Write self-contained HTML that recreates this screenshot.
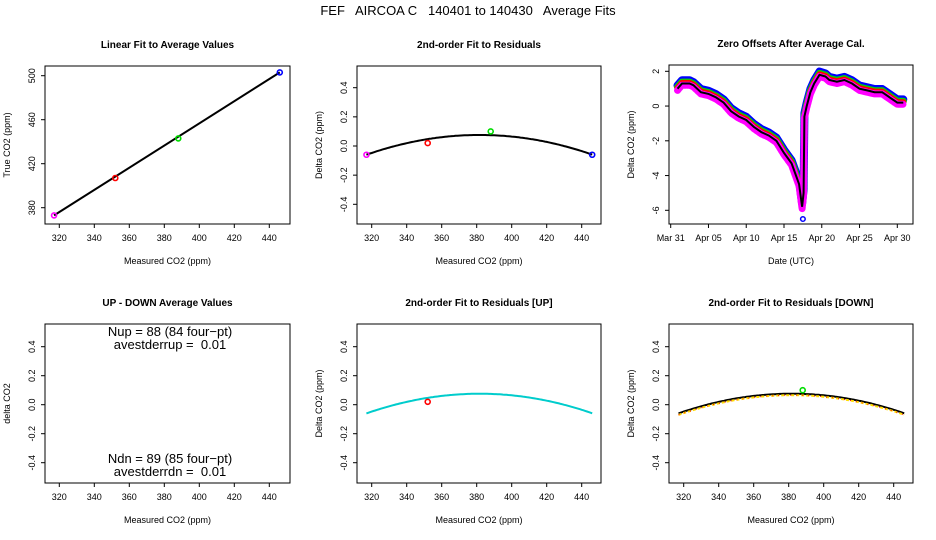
<!DOCTYPE html>
<html><head><meta charset="utf-8"><style>
body{margin:0;background:#fff}
svg{display:block;font-family:"Liberation Sans",sans-serif}
text{fill:#000;white-space:pre}
</style></head><body>
<svg id="s" width="936" height="540" xmlns="http://www.w3.org/2000/svg">
<rect width="936" height="540" fill="#fff"/>
<text x="468" y="15" font-size="13" text-anchor="middle" xml:space="preserve">FEF   AIRCOA C   140401 to 140430   Average Fits</text>
</svg>
<script>
// ---- data ----
const calX = [317, 352, 388, 446];
const calTrue = [373, 407, 443, 503];
const calResid = [-0.06, 0.02, 0.10, -0.06];
const calColors = ["#ff00ff", "#ff0000", "#00dd00", "#0000ff"];
const fitCoef = [-0.06, 0.0042, -0.0000325]; // quadratic in (x-317)
const days = [0.9,1.5,2.5,3,4,5,6,7,8,9,10,11,12,13,14,15,16,17,17.4,17.6,17.7,18,18.5,19,19.7,20.5,21,22,23,24,25,26,27,28,29,30,30.8];
const offsets = [1.0,1.3,1.3,1.2,0.8,0.7,0.5,0.2,-0.3,-0.6,-0.8,-1.2,-1.5,-1.7,-2.0,-2.7,-3.3,-4.5,-5.8,-5.0,-0.6,0.0,0.8,1.3,1.8,1.7,1.5,1.4,1.5,1.3,1.0,0.9,0.8,0.8,0.5,0.2,0.2];
const seriesShift = [0.18, 0.08, 0.03, -0.1];
const seriesColors = ["#0000ff", "#00dd00", "#ff0000", "#ff00ff"];
const dateTicks = [0,5,10,15,20,25,30];
const dateLabels = ["Mar 31","Apr 05","Apr 10","Apr 15","Apr 20","Apr 25","Apr 30"];
const xTicks = [320,340,360,380,400,420,440];
const residTicks = [-0.4,-0.2,0.0,0.2,0.4];
const trueTicks = [380,420,460,500];
const offTicks = [-6,-4,-2,0,2];

const NS="http://www.w3.org/2000/svg", S=document.getElementById('s');
function el(t,a,p){const e=document.createElementNS(NS,t);for(const k in a)e.setAttribute(k,a[k]);(p||S).appendChild(e);return e;}
function txt(x,y,s,a,p){const e=el('text',Object.assign({x:x,y:y,'font-size':9,'text-anchor':'middle'},a||{}),p);e.textContent=s;return e;}
function lin(d0,d1,r0,r1){return v=>r0+(v-d0)*(r1-r0)/(d1-d0);}
function fit(x){const d=x-317;return fitCoef[0]+fitCoef[1]*d+fitCoef[2]*d*d;}

function panel(name,box,title,xl,yl,fx,fy,xt,xlab,yt,ylab){
  const g=el('g',{});
  
  
  const [L,T,R,B]=box;
  const t=txt((L+R)/2,T-18,title,{'font-weight':'bold','font-size':10},g);
  
  const r=el('rect',{x:L,y:T,width:R-L,height:B-T,fill:'none',stroke:'#000','stroke-width':1},g);
  
  xt.forEach((v,i)=>{const x=fx(v);el('line',{x1:x,x2:x,y1:B,y2:B+4,stroke:'#000'},g);
    const e=txt(x,B+17,xlab?xlab[i]:String(v),{},g);});
  yt.forEach((v,i)=>{const y=fy(v);el('line',{x1:L,x2:L-4,y1:y,y2:y,stroke:'#000'},g);
    const e=txt(L-10,y,ylab[i],{transform:`rotate(-90 ${L-10} ${y})`},g);
    });
  const xa=txt((L+R)/2,B+40,xl,{},g);
  const yx=L-35;const ya=txt(yx,(T+B)/2,yl,{transform:`rotate(-90 ${yx} ${(T+B)/2})`},g);
  
  return g;
}
const rl=residTicks.map(v=>v.toFixed(1));

// Panel 1
{const fx=lin(320,440,59.3,269.3),fy=lin(380,500,207.7,75.7);
 const g=panel('linear-fit-panel',[45,66,290,224],'Linear Fit to Average Values','Measured CO2 (ppm)','True CO2 (ppm)',fx,fy,xTicks,null,trueTicks,trueTicks.map(String));
 const mn=Math.min(...calX),mx=Math.max(...calX);
 const sl=(calTrue[3]-calTrue[0])/(calX[3]-calX[0]);
 const l=el('line',{x1:fx(mn),y1:fy(calTrue[0]),x2:fx(mx),y2:fy(calTrue[0]+sl*(mx-mn)),stroke:'#000','stroke-width':2},g);
 
 calX.forEach((x,i)=>{const c=el('circle',{cx:fx(x),cy:fy(calTrue[i]),r:2.5,fill:'none',stroke:calColors[i],'stroke-width':1.6},g);
   });
}
function residPanel(name,box,title,xr,yr,color,pts,dash){
  const fx=lin(320,440,xr[0],xr[1]),fy=lin(-0.4,0.4,yr[0],yr[1]);
  const g=panel(name,box,title,'Measured CO2 (ppm)',name==='up-down-panel'?'delta CO2':'Delta CO2 (ppm)',fx,fy,xTicks,null,residTicks,rl);
  if(color){let d='';for(let x=317;x<=446;x+=1)d+=(x===317?'M':'L')+fx(x).toFixed(1)+','+fy(fit(x)).toFixed(1);
    const p=el('path',{d:d,fill:'none',stroke:color,'stroke-width':2},g);
    
    if(dash){const p2=el('path',{d:d,fill:'none',stroke:dash,'stroke-width':2,'stroke-dasharray':'3 2',transform:'translate(0,1.5)'},g);
      
      const p3=el('path',{d:d,fill:'none',stroke:'#ff0000','stroke-width':1,'stroke-dasharray':'1 5',transform:'translate(0,1.5)'},g);
      }}
  pts.forEach(i=>{const c=el('circle',{cx:fx(calX[i]),cy:fy(calResid[i]),r:2.5,fill:'none',stroke:calColors[i],'stroke-width':1.6},g);
    });
  return [g,fx,fy];
}
residPanel('residual-panel',[357,66,601,224],'2nd-order Fit to Residuals',[371.7,581.7],[204.3,87.7],'#000',[0,1,2,3]);
// Panel 3 zero offsets
{const fx=lin(0,30,670.7,897.3),fy=lin(-6,2,210.3,71.3);
 const g=panel('zero-offsets-panel',[669,65,913,224],'Zero Offsets After Average Cal.','Date (UTC)','Delta CO2 (ppm)',fx,fy,dateTicks,dateLabels,offTicks,offTicks.map(String));
 const widths=[8,7,6,7];
 seriesShift.forEach((s,k)=>{const d=days.map((t,i)=>(i?'L':'M')+fx(t).toFixed(1)+','+fy(offsets[i]+s).toFixed(1)).join('');
   const p=el('path',{d:d,fill:'none',stroke:seriesColors[k],'stroke-width':widths[k],'stroke-linejoin':'round','stroke-linecap':'round'},g);
   if(k===3)p.setAttribute('stroke-dasharray','2 1');
   });
 const d=days.map((t,i)=>(i?'L':'M')+fx(t).toFixed(1)+','+fy(offsets[i]).toFixed(1)).join('');
 const p=el('path',{d:d,fill:'none',stroke:'#000','stroke-width':2},g);
 
 const c=el('circle',{cx:fx(17.5),cy:fy(-6.5),r:2.3,fill:'none',stroke:'#0000ff','stroke-width':1.5},g);
 
}
// Bottom row
{const [g]=residPanel('up-down-panel',[45,324,290,483],'UP - DOWN Average Values',[59.3,269.3],[462.7,346.7],null,[]);
 [['Nup = 88 (84 four\u2212pt)',336],['avestderrup =  0.01',349],['Ndn = 89 (85 four\u2212pt)',463],['avestderrdn =  0.01',476]].forEach(a=>{
   const e=txt(170,a[1],a[0],{'font-size':13},g);});}
residPanel('residual-up-panel',[357,324,601,483],'2nd-order Fit to Residuals [UP]',[371.7,581.7],[462.7,346.7],'#00cccc',[1]);
residPanel('residual-down-panel',[669,324,913,483],'2nd-order Fit to Residuals [DOWN]',[683.7,893.7],[462.7,346.7],'#000',[2],'#ffdd00');
</script>
</body></html>
